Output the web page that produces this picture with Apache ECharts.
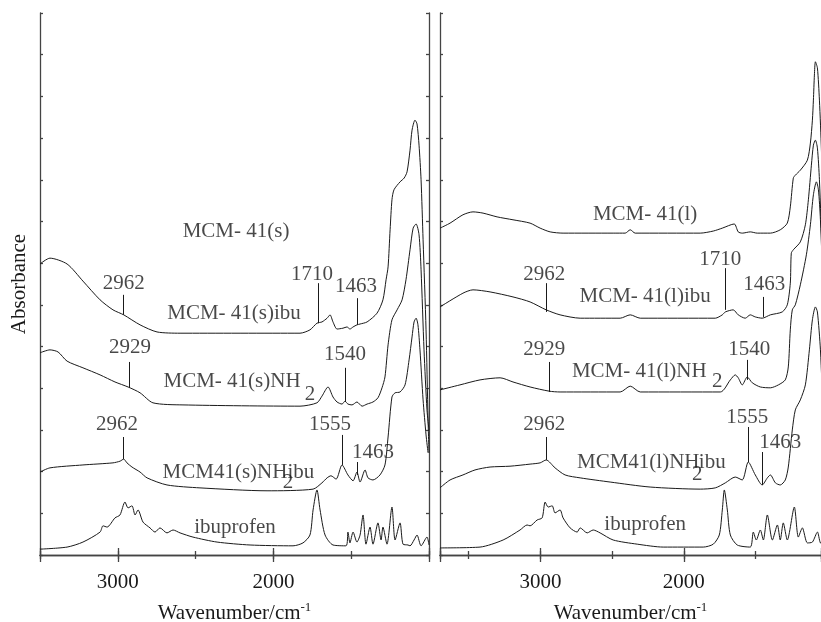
<!DOCTYPE html>
<html>
<head>
<meta charset="utf-8">
<title>FTIR spectra</title>
<script src="https://cdn.jsdelivr.net/npm/echarts@6/dist/echarts.min.js"></script>
<style>
  html, body { margin: 0; background: #fff; }
  #chart { width: 821px; height: 622px; }
</style>
</head>
<body>
<div id="chart"></div>
<script>
// tick labels on the wavenumber axes
const xTickLabels = [2000, 3000];

// ---- left panel (small pore MCM-41) : [wavenumber, absorbance] ----
const mcmSIbu = [[3500,6.98],[3436,7.12],[3326,6.98],[3224,6.57],[3114,6.12],[3031,5.88],[2962,5.76],[2857,5.52],[2748,5.35],[2600,5.32],[1829,5.32],[1765,5.40],[1720,5.56],[1688,5.59],[1655,5.68],[1636,5.76],[1617,5.59],[1591,5.42],[1553,5.44],[1527,5.47],[1508,5.42],[1488,5.47],[1463,5.52],[1443,5.54],[1398,5.59],[1334,5.80],[1296,6.12],[1276,6.60],[1263,6.91],[1250,7.80],[1238,8.52],[1225,8.76],[1186,8.95],[1160,9.04],[1141,9.19],[1122,9.71],[1109,10.19],[1090,10.43],[1077,10.34],[1064,9.83],[1051,9.00],[1038,7.56],[1019,5.40],[1006,3.24],[1000,2.45]];
const mcmSNh2 = [[3500,4.85],[3436,4.92],[3384,4.87],[3326,4.65],[3224,4.49],[3114,4.32],[3018,4.15],[2934,4.03],[2857,3.89],[2774,3.65],[2581,3.60],[1829,3.57],[1720,3.65],[1688,3.81],[1649,4.03],[1617,3.79],[1591,3.67],[1559,3.62],[1540,3.69],[1521,3.62],[1495,3.60],[1463,3.67],[1430,3.57],[1398,3.62],[1360,3.67],[1328,3.77],[1302,4.01],[1283,4.27],[1263,5.04],[1238,5.64],[1205,5.88],[1173,6.12],[1148,6.60],[1122,7.32],[1102,7.84],[1083,7.94],[1064,7.68],[1051,6.84],[1032,4.92],[1013,3.48],[1000,3.00]];
const mcmSNh2Ibu = [[3500,1.99],[3436,2.09],[3224,2.16],[3031,2.21],[2986,2.25],[2962,2.30],[2941,2.21],[2909,2.11],[2857,1.99],[2812,1.85],[2684,1.68],[2472,1.61],[2041,1.54],[1745,1.58],[1688,1.73],[1655,1.85],[1630,1.90],[1597,1.82],[1559,2.16],[1521,1.92],[1488,1.78],[1463,1.99],[1443,1.75],[1411,2.04],[1392,1.85],[1360,1.80],[1315,1.92],[1283,2.16],[1263,2.83],[1238,3.79],[1218,3.89],[1186,3.91],[1154,4.08],[1128,4.68],[1109,5.23],[1096,5.59],[1083,5.68],[1071,5.52],[1058,4.92],[1038,3.72],[1019,2.88],[1006,2.45]];
const ibuprofenS = [[3500,0.14],[3326,0.19],[3224,0.31],[3114,0.55],[3095,0.70],[3069,0.67],[3018,0.89],[2986,0.96],[2954,1.27],[2934,1.13],[2909,1.18],[2889,0.96],[2870,1.08],[2838,0.79],[2793,0.65],[2761,0.55],[2729,0.65],[2684,0.53],[2645,0.60],[2600,0.53],[2517,0.43],[2362,0.31],[2150,0.24],[1874,0.22],[1810,0.29],[1765,0.48],[1745,1.08],[1720,1.56],[1700,1.08],[1668,0.48],[1617,0.24],[1533,0.22],[1521,0.55],[1508,0.29],[1488,0.55],[1463,0.31],[1443,0.48],[1424,0.96],[1405,0.26],[1379,0.67],[1360,0.26],[1328,0.77],[1308,0.36],[1296,0.67],[1270,0.26],[1238,1.15],[1218,0.36],[1186,0.77],[1167,0.26],[1135,0.24],[1122,0.22],[1096,0.36],[1077,0.48],[1051,0.22],[1013,0.43],[1000,0.24]];

// ---- right panel (large pore MCM-41) ----
const mcmL = [[3700,7.84],[3630,7.96],[3540,8.16],[3470,8.23],[3400,8.20],[3302,8.11],[3191,8.04],[3072,7.96],[3002,7.84],[2932,7.75],[2842,7.72],[2493,7.72],[2409,7.72],[2374,7.80],[2339,7.72],[1886,7.72],[1795,7.77],[1732,7.84],[1649,7.94],[1621,7.75],[1593,7.72],[1537,7.75],[1488,7.72],[1397,7.72],[1328,7.80],[1279,7.96],[1258,8.35],[1237,9.04],[1223,9.11],[1188,9.23],[1139,9.47],[1118,9.88],[1104,10.43],[1097,10.91],[1090,11.51],[1083,11.83],[1069,11.68],[1055,10.91],[1041,9.71],[1013,6.12],[1000,3.72]];
const mcmLIbu = [[3700,5.95],[3540,6.28],[3470,6.36],[3351,6.31],[3191,6.19],[3072,6.07],[2960,5.88],[2863,5.76],[2723,5.68],[2444,5.68],[2374,5.76],[2304,5.68],[1781,5.68],[1732,5.76],[1711,5.83],[1656,5.88],[1621,5.76],[1572,5.68],[1537,5.76],[1502,5.71],[1454,5.68],[1397,5.76],[1314,5.83],[1279,6.00],[1258,6.52],[1251,7.24],[1237,7.32],[1188,7.51],[1153,7.92],[1132,8.52],[1111,9.35],[1097,9.83],[1083,9.95],[1069,9.76],[1055,9.00],[1034,7.08],[1000,4.20]];
const mcmLNh2 = [[3700,3.96],[3561,4.08],[3421,4.20],[3281,4.25],[3191,4.15],[3072,4.03],[2939,3.93],[2863,3.91],[2444,3.91],[2374,4.05],[2304,3.91],[1746,3.91],[1676,4.20],[1642,4.32],[1621,4.25],[1593,4.08],[1558,4.27],[1523,4.13],[1467,4.03],[1397,4.01],[1341,4.08],[1293,4.20],[1272,4.51],[1258,5.40],[1244,5.88],[1223,6.00],[1188,6.48],[1146,7.20],[1118,7.92],[1097,8.64],[1076,8.95],[1062,8.76],[1048,8.04],[1027,6.12],[1000,3.24]];
const mcmLNh2Ibu = [[3700,1.61],[3630,1.80],[3540,1.92],[3456,2.04],[3351,2.11],[3212,2.13],[3072,2.18],[3002,2.21],[2960,2.28],[2898,2.09],[2828,1.92],[2723,1.85],[2514,1.75],[2235,1.63],[1886,1.58],[1781,1.61],[1711,1.73],[1642,1.87],[1593,1.80],[1551,2.23],[1502,1.92],[1454,1.68],[1418,1.85],[1397,1.92],[1362,1.73],[1328,1.68],[1293,1.80],[1272,2.11],[1244,3.00],[1223,3.48],[1188,3.72],[1153,4.08],[1125,4.92],[1104,5.64],[1083,5.95],[1069,5.83],[1048,4.92],[1027,3.24],[1000,1.80]];
const ibuprofenL = [[3700,0.17],[3421,0.19],[3260,0.36],[3142,0.60],[3093,0.72],[3072,0.70],[3023,0.84],[2988,0.89],[2967,1.27],[2946,1.15],[2918,1.18],[2898,1.01],[2863,1.08],[2842,0.89],[2793,0.65],[2744,0.55],[2723,0.65],[2674,0.53],[2632,0.60],[2584,0.53],[2493,0.36],[2325,0.26],[2144,0.19],[1865,0.19],[1795,0.26],[1753,0.48],[1732,1.08],[1718,1.56],[1697,1.08],[1676,0.48],[1628,0.24],[1537,0.19],[1516,0.55],[1495,0.36],[1467,0.60],[1446,0.36],[1418,0.96],[1383,0.36],[1348,0.72],[1328,0.36],[1307,0.77],[1279,0.36],[1230,1.15],[1202,0.43],[1174,0.65],[1139,0.29],[1104,0.31],[1069,0.55],[1048,0.29],[1020,0.24]];

// peak marker lines: [wavenumber, lower end, upper end]
const peakMarksS = [[2962,5.76,6.24],[1710,5.56,6.52],[1463,5.52,6.16],[2929,4.01,4.63],[1540,3.67,4.49],[2962,2.30,2.83],[1555,2.16,2.88],[1463,1.92,2.23]];
const peakMarksL = [[2960,5.83,6.52],[1711,5.88,6.88],[1450,5.71,6.19],[2935,3.91,4.63],[1555,4.20,4.68],[2960,2.28,2.83],[1551,2.23,3.07],[1454,1.68,2.47]];

// text annotations: [text, wavenumber, absorbance] (text centre)
const textS = [['MCM- 41(s)',2240,7.75],['2962',2962,6.52],['1710',1752,6.72],['1463',1469,6.43],['MCM- 41(s)ibu',2253,5.80],['2929',2922,4.97],['1540',1540,4.80],['MCM- 41(s)NH',2266,4.15],['2',1765,3.84],['2962',3005,3.12],['1555',1636,3.12],['1463',1360,2.47],['MCM41(s)NH',2311,1.99],['2',1906,1.75],['ibu',1823,1.99],['ibuprofen',2247,0.65]];
const textL = [['MCM- 41(l)',2270,8.16],['2962',2974,6.72],['1710',1746,7.08],['1463',1439,6.48],['MCM- 41(l)ibu',2270,6.19],['2929',2974,4.92],['1540',1544,4.92],['MCM- 41(l)NH',2311,4.39],['2',1767,4.15],['2962',2974,3.12],['1555',1558,3.31],['1463',1328,2.69],['MCM41(l)NH',2318,2.21],['2',1907,1.94],['ibu',1802,2.21],['ibuprofen',2270,0.72]];

const FONT = 'Liberation Serif';
const INK = '#1a1a1a';
const AXIS = '#444';

const chart = echarts.init(document.getElementById('chart'));

// the right panel runs off the picture, so its axis ends where the image ends
const leftRange = [1000, 3500];
const rightRange = [1044, 3700];

function xAxisCfg(grid, pos, range, split, len, main) {
  return {
    type: 'value', gridIndex: grid, position: pos, inverse: true,
    min: range[0], max: range[1], splitNumber: split,
    axisLine: { show: main, lineStyle: { color: AXIS, width: 1.3 } },
    axisTick: { show: true, inside: true, length: len, lineStyle: { color: AXIS, width: 1.3 } },
    axisLabel: {
      show: main && pos === 'bottom', margin: 17,
      fontFamily: FONT, fontSize: 21, color: INK,
      formatter: v => xTickLabels.includes(v) ? String(v) : ''
    },
    splitLine: { show: false }
  };
}

function yAxisCfg(grid, pos, show) {
  return {
    type: 'value', gridIndex: grid, position: pos, show: show,
    min: 0, max: 13, interval: 1,
    axisLine: { show: true, lineStyle: { color: AXIS, width: 1.3 } },
    axisTick: { show: true, inside: true, length: 3, lineStyle: { color: AXIS, width: 1.3 } },
    axisLabel: { show: false },
    splitLine: { show: false }
  };
}

const axisName = {
  name: '{a|Wavenumber/cm}{b|-1}',
  nameLocation: 'middle',
  nameGap: 46,
  nameTextStyle: {
    rich: {
      a: { fontFamily: FONT, fontSize: 21, color: INK, lineHeight: 24 },
      b: { fontFamily: FONT, fontSize: 13, color: INK, lineHeight: 13, verticalAlign: 'top' }
    }
  }
};

const leftRect = { left: 40, top: 13, width: 389, height: 542, outerBoundsMode: 'none', containLabel: false };
const rightRect = { left: 440, top: 13, width: 381, height: 542, outerBoundsMode: 'none', containLabel: false };

const grids = [leftRect, leftRect, leftRect, leftRect, rightRect, rightRect, rightRect, rightRect];

const xAxes = [
  Object.assign(xAxisCfg(0, 'bottom', leftRange, 5, 4, true), axisName),
  xAxisCfg(1, 'top', leftRange, 5, 4, true),
  xAxisCfg(2, 'bottom', leftRange, 2, 7, false),
  xAxisCfg(3, 'top', leftRange, 2, 7, false),
  Object.assign(xAxisCfg(4, 'bottom', rightRange, 5, 4, true), axisName),
  xAxisCfg(5, 'top', rightRange, 5, 4, true),
  xAxisCfg(6, 'bottom', rightRange, 2, 7, false),
  xAxisCfg(7, 'top', rightRange, 2, 7, false)
];

const yAxes = [
  Object.assign(yAxisCfg(0, 'left', true), {
    name: 'Absorbance', nameLocation: 'middle', nameGap: 10, nameRotate: 90,
    nameTextStyle: { fontFamily: FONT, fontSize: 21, color: INK }
  }),
  yAxisCfg(0, 'right', true),
  yAxisCfg(1, 'left', false),
  yAxisCfg(2, 'left', false),
  yAxisCfg(3, 'left', false),
  yAxisCfg(4, 'left', true),
  yAxisCfg(5, 'left', false),
  yAxisCfg(6, 'left', false),
  yAxisCfg(7, 'left', false)
];

function curve(data, xi, yi) {
  return {
    type: 'line', data: data, xAxisIndex: xi, yAxisIndex: yi,
    showSymbol: false, smooth: 0.25, silent: true, clip: true,
    lineStyle: { color: INK, width: 1 }
  };
}

function marks(list, xi, yi) {
  return {
    type: 'lines', coordinateSystem: 'cartesian2d', xAxisIndex: xi, yAxisIndex: yi,
    silent: true,
    lineStyle: { color: INK, width: 1, opacity: 1 },
    data: list.map(m => ({ coords: [[m[0], m[1]], [m[0], m[2]]] }))
  };
}

function texts(list, xi, yi) {
  return {
    type: 'scatter', xAxisIndex: xi, yAxisIndex: yi, silent: true,
    symbolSize: 1, itemStyle: { color: 'transparent' },
    label: {
      show: true, position: 'inside', formatter: p => p.name,
      fontFamily: FONT, fontSize: 21, color: INK
    },
    data: list.map(t => ({ name: t[0], value: [t[1], t[2]] }))
  };
}

chart.setOption({
  animation: false,
  backgroundColor: '#fff',
  grid: grids,
  xAxis: xAxes,
  yAxis: yAxes,
  series: [
    curve(mcmSIbu, 0, 0),
    curve(mcmSNh2, 0, 0),
    curve(mcmSNh2Ibu, 0, 0),
    curve(ibuprofenS, 0, 0),
    marks(peakMarksS, 0, 0),
    texts(textS, 0, 0),
    curve(mcmL, 4, 5),
    curve(mcmLIbu, 4, 5),
    curve(mcmLNh2, 4, 5),
    curve(mcmLNh2Ibu, 4, 5),
    curve(ibuprofenL, 4, 5),
    marks(peakMarksL, 4, 5),
    texts(textL, 4, 5)
  ]
});
</script>
</body>
</html>
